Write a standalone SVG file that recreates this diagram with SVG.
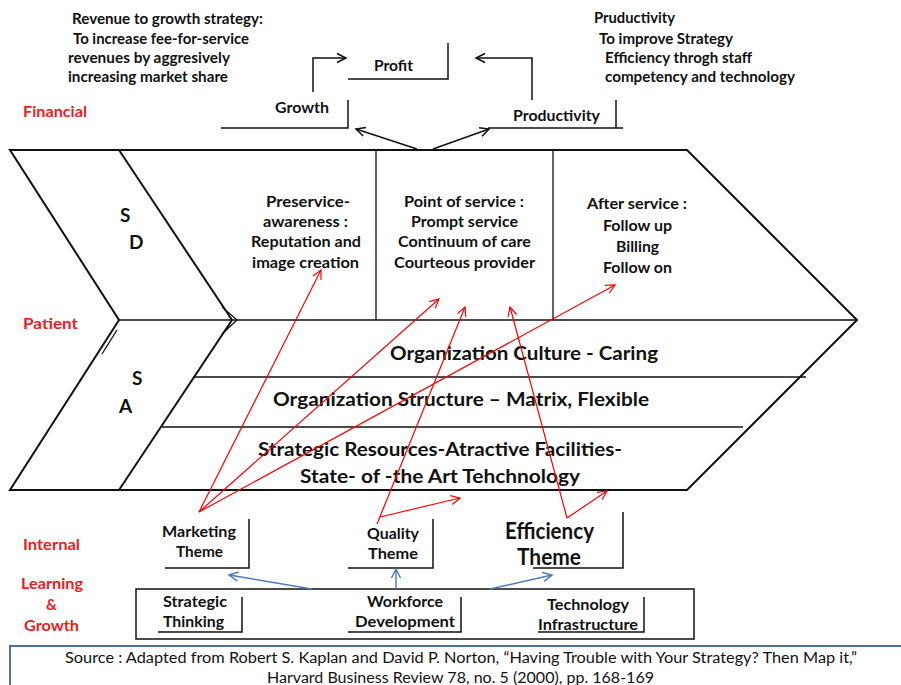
<svg xmlns="http://www.w3.org/2000/svg" width="901" height="685" viewBox="0 0 901 685">
<style>
text{font-family:Lato,"Open Sans","Liberation Sans",sans-serif;font-weight:bold;fill:#111;font-size:14.5px}
.red{fill:#ee1c1c;font-size:15px}
.big{font-size:19.5px}
.sd{font-size:19px}
.mid{font-size:15px}
.eff{font-size:22.5px}
.src{font-weight:normal;font-size:14.5px}
.ln{stroke:#111;stroke-width:1.5;fill:none}
.shape{stroke:#111;stroke-width:2;fill:none;stroke-linejoin:miter}
.thin{stroke:#111;stroke-width:1.3;fill:none}
.ra{stroke:#ff0000;stroke-width:1.2;fill:none;marker-end:url(#mr)}
.ba{stroke:#4a7ebb;stroke-width:1.5;fill:none;marker-end:url(#mb)}
.ka{stroke:#111;stroke-width:1.5;fill:none;marker-end:url(#mk)}
</style>
<defs>
<marker id="mk" markerWidth="12" markerHeight="12" refX="10" refY="6" orient="auto" markerUnits="userSpaceOnUse"><path d="M1,1.5 L10,6 L1,10.5" fill="none" stroke="#111" stroke-width="1.5"/></marker>
<marker id="mr" markerWidth="12" markerHeight="12" refX="10" refY="6" orient="auto" markerUnits="userSpaceOnUse"><path d="M1,1.5 L10,6 L1,10.5" fill="none" stroke="#ff0000" stroke-width="1.2"/></marker>
<marker id="mb" markerWidth="12" markerHeight="12" refX="10" refY="6" orient="auto" markerUnits="userSpaceOnUse"><path d="M1,1.5 L10,6 L1,10.5" fill="none" stroke="#4a7ebb" stroke-width="1.5"/></marker>
</defs>
<rect width="901" height="685" fill="#fff"/>

<g id="strategy-revenue">
<text x="72" y="24" textLength="191" lengthAdjust="spacingAndGlyphs">Revenue to growth strategy:</text>
<text x="73" y="44" textLength="176" lengthAdjust="spacingAndGlyphs">To increase fee-for-service</text>
<text x="68" y="63" textLength="162" lengthAdjust="spacingAndGlyphs">revenues by aggresively</text>
<text x="68" y="82" textLength="160" lengthAdjust="spacingAndGlyphs">increasing market share</text>
</g>
<g id="strategy-productivity">
<text x="594" y="23" textLength="81" lengthAdjust="spacingAndGlyphs">Pruductivity</text>
<text x="599" y="44" textLength="134" lengthAdjust="spacingAndGlyphs">To improve Strategy</text>
<text x="605" y="63" textLength="147" lengthAdjust="spacingAndGlyphs">Efficiency throgh staff</text>
<text x="605" y="82" textLength="190" lengthAdjust="spacingAndGlyphs">competency and technology</text>
</g>
<g id="label-financial"><text class="red" x="23" y="117" textLength="64" lengthAdjust="spacingAndGlyphs">Financial</text></g>
<g id="label-patient"><text class="red" x="23" y="329" textLength="55" lengthAdjust="spacingAndGlyphs">Patient</text></g>
<g id="label-internal"><text class="red" x="23" y="550" textLength="57" lengthAdjust="spacingAndGlyphs">Internal</text></g>
<g id="label-learning">
<text class="red" x="21" y="589" textLength="62" lengthAdjust="spacingAndGlyphs">Learning</text>
<text class="red" x="46" y="610">&amp;</text>
<text class="red" x="24" y="631" textLength="55" lengthAdjust="spacingAndGlyphs">Growth</text>
</g>

<g id="profit">
<text class="mid" x="374" y="71" textLength="39" lengthAdjust="spacingAndGlyphs">Profit</text>
<path class="ln" d="M348,79 H448 V43"/>
</g>
<g id="growth">
<text class="mid" x="275" y="113" textLength="54" lengthAdjust="spacingAndGlyphs">Growth</text>
<path class="ln" d="M221,128 H348 V100"/>
</g>
<g id="productivity">
<text class="mid" x="513" y="121" textLength="87" lengthAdjust="spacingAndGlyphs">Productivity</text>
<path class="ln" d="M488,128 H623 M616,128 V100"/>
</g>

<g id="value-chain">
<path class="shape" d="M10,150 H687 L857,320 L687,490 H10 L119,320 Z"/>
<path class="shape" d="M119,150 L232,320 L119,490"/>
<path class="thin" d="M222,307 L237,320 L222,334 M102,354 L117,330"/>
<path class="thin" d="M119,320 H857 M376,150 V320 M553,150 V320 M193,377 H806 M162,427 H743"/>
</g>
<g id="sd"><text class="sd" x="120" y="222">S</text><text class="sd" x="129" y="249">D</text></g>
<g id="sa"><text class="sd" x="132" y="385">S</text><text class="sd" x="119" y="413">A</text></g>

<g id="preservice">
<text x="266" y="207" textLength="84" lengthAdjust="spacingAndGlyphs">Preservice-</text>
<text x="263" y="227" textLength="85" lengthAdjust="spacingAndGlyphs">awareness :</text>
<text x="251" y="247" textLength="110" lengthAdjust="spacingAndGlyphs">Reputation and</text>
<text x="252" y="268" textLength="107" lengthAdjust="spacingAndGlyphs">image creation</text>
</g>
<g id="point-of-service">
<text x="404" y="207" textLength="120" lengthAdjust="spacingAndGlyphs">Point of service :</text>
<text x="411" y="227" textLength="107" lengthAdjust="spacingAndGlyphs">Prompt service</text>
<text x="398" y="247" textLength="133" lengthAdjust="spacingAndGlyphs">Continuum of care</text>
<text x="394" y="268" textLength="141" lengthAdjust="spacingAndGlyphs">Courteous provider</text>
</g>
<g id="after-service">
<text x="587" y="209" textLength="100" lengthAdjust="spacingAndGlyphs">After service :</text>
<text x="603" y="231" textLength="69" lengthAdjust="spacingAndGlyphs">Follow up</text>
<text x="616" y="252" textLength="43" lengthAdjust="spacingAndGlyphs">Billing</text>
<text x="603" y="273" textLength="69" lengthAdjust="spacingAndGlyphs">Follow on</text>
</g>
<g id="culture"><text class="big" x="390" y="360" textLength="268" lengthAdjust="spacingAndGlyphs">Organization Culture - Caring</text></g>
<g id="structure"><text class="big" x="273" y="406" textLength="376" lengthAdjust="spacingAndGlyphs">Organization Structure – Matrix, Flexible</text></g>
<g id="resources">
<text class="big" x="258" y="456" textLength="364" lengthAdjust="spacingAndGlyphs">Strategic Resources-Atractive Facilities-</text>
<text class="big" x="300" y="483" textLength="280" lengthAdjust="spacingAndGlyphs">State- of -the Art Tehchnology</text>
</g>

<g id="marketing-theme">
<text x="162" y="537" textLength="74" lengthAdjust="spacingAndGlyphs">Marketing</text>
<text x="176" y="557" textLength="47" lengthAdjust="spacingAndGlyphs">Theme</text>
<path class="ln" d="M165,568 H249 V519"/>
</g>
<g id="quality-theme">
<text x="367" y="539" textLength="52" lengthAdjust="spacingAndGlyphs">Quality</text>
<text x="368" y="559" textLength="50" lengthAdjust="spacingAndGlyphs">Theme</text>
<path class="ln" d="M348,568 H433 V519"/>
</g>
<g id="efficiency-theme">
<text class="eff" x="505" y="539" textLength="89" lengthAdjust="spacingAndGlyphs">Efficiency</text>
<text class="eff" x="517" y="565" textLength="64" lengthAdjust="spacingAndGlyphs">Theme</text>
<path class="ln" d="M533,568 H623 V512"/>
</g>

<g id="learning-box">
<rect class="ln" x="136" y="589" width="558" height="50"/>
</g>
<g id="strategic-thinking">
<text x="163" y="607" textLength="64" lengthAdjust="spacingAndGlyphs">Strategic</text>
<text x="163" y="627" textLength="61" lengthAdjust="spacingAndGlyphs">Thinking</text>
<path class="ln" d="M158,632 H242 V597"/>
</g>
<g id="workforce">
<text x="367" y="607" textLength="76" lengthAdjust="spacingAndGlyphs">Workforce</text>
<text x="355" y="627" textLength="100" lengthAdjust="spacingAndGlyphs">Development</text>
<path class="ln" d="M348,632 H461 V597"/>
</g>
<g id="technology">
<text x="547" y="610" textLength="82" lengthAdjust="spacingAndGlyphs">Technology</text>
<text x="538" y="630" textLength="100" lengthAdjust="spacingAndGlyphs">Infrastructure</text>
<path class="ln" d="M538,632 H644 V597"/>
</g>

<g id="source">
<path d="M10,686 V646 H905" fill="none" stroke="#4f6f9a" stroke-width="2"/>
<text class="src" x="65" y="663" textLength="792" lengthAdjust="spacingAndGlyphs">Source : Adapted from Robert S. Kaplan and David P. Norton, “Having Trouble with Your Strategy? Then Map it,”</text>
<text class="src" x="267" y="683" textLength="387" lengthAdjust="spacingAndGlyphs">Harvard Business Review 78, no. 5 (2000), pp. 168-169</text>
</g>

<g id="connectors">
<path class="ka" d="M313,92 V58 H346"/>
<path class="ka" d="M532,100 V58 H476"/>
<path class="ka" d="M417,149 L356,129"/>
<path class="ka" d="M433,149 L489,129"/>
<path class="ra" d="M199,512 L321,270"/>
<path class="ra" d="M199,512 L439,299"/>
<path class="ra" d="M199,512 L615,285"/>
<path class="ra" d="M377,524 L465,307"/>
<path class="ra" d="M380,517 L460,498"/>
<path class="ra" d="M567,518 L510,307"/>
<path class="ra" d="M567,518 L607,491"/>
<path class="ba" d="M312,589 L229,575"/>
<path class="ba" d="M396,589 L396,569"/>
<path class="ba" d="M490,589 L552,575"/>
</g>
</svg>
